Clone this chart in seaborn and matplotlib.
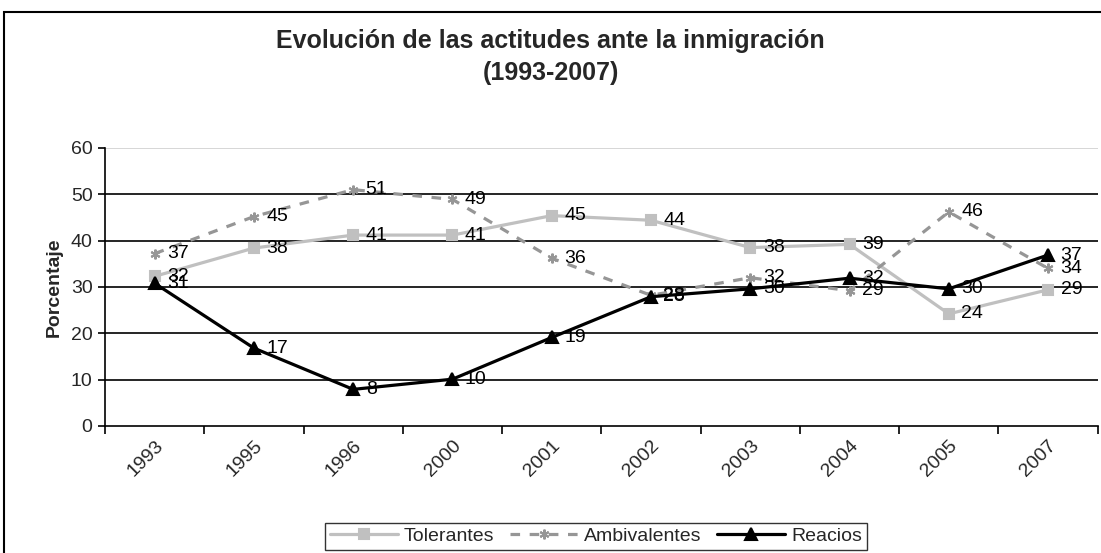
import matplotlib

matplotlib.use("Agg")
import matplotlib.pyplot as plt
import matplotlib.transforms as mtransforms
import numpy as np
import pandas as pd
import seaborn as sns
from matplotlib.patches import Rectangle

years = ["1993", "1995", "1996", "2000", "2001", "2002", "2003", "2004", "2005", "2007"]
tolerantes = [32.3, 38.4, 41.2, 41.2, 45.4, 44.4, 38.5, 39.2, 24.2, 29.4]
ambivalentes = [37.2, 45.2, 51.0, 48.9, 36.2, 28.2, 32.0, 29.2, 46.2, 34.0]
reacios = [30.8, 16.8, 7.9, 10.1, 19.1, 27.9, 29.6, 31.9, 29.6, 36.9]

series = {
    "Tolerantes": dict(values=tolerantes, color="#c0c0c0", marker="s", ls="-", ms=7),
    "Ambivalentes": dict(values=ambivalentes, color="#969696", marker=(6, 2, 0), ls=(0, (3, 3)), ms=7),
    "Reacios": dict(values=reacios, color="#000000", marker="^", ls="-", ms=8),
}

sns.set_theme(style="white")
plt.rcParams["font.family"] = ["Liberation Sans", "DejaVu Sans"]

fig = plt.figure(figsize=(11.01, 5.53), dpi=100)
ax = fig.add_axes([0.0954, 0.2297, 0.9016, 0.5027])

x = np.arange(len(years))
for name, s in series.items():
    df = pd.DataFrame({"x": x, "y": s["values"]})
    sns.lineplot(data=df, x="x", y="y", ax=ax, color=s["color"], linestyle=s["ls"],
                 marker=s["marker"], markersize=s["ms"], markeredgecolor=s["color"],
                 markeredgewidth=1.5, linewidth=2.3, label=name)
    for xi, v in zip(x, s["values"]):
        ax.annotate(f"{round(v)}", (xi, v), xytext=(9, 0), textcoords="offset points",
                    ha="left", va="center", fontsize=14, color="black")

ax.set_xlim(-0.5, len(years) - 0.5)
ax.set_ylim(0, 60)
ax.set_yticks(range(0, 61, 10))
ax.set_xticks(x)
ax.set_xticklabels(years, rotation=45, ha="right", rotation_mode="anchor", fontsize=14)
shift = mtransforms.ScaledTranslation(-10 / 100, -4 / 100, fig.dpi_scale_trans)
for lab in ax.get_xticklabels():
    lab.set_transform(lab.get_transform() + shift)
ax.tick_params(axis="x", length=0, pad=8)
ax.set_xticks(np.arange(-0.5, len(years), 1), minor=True)
ax.tick_params(axis="x", which="minor", length=6, width=1.2, color="black", direction="out", bottom=True)
ax.tick_params(axis="y", labelsize=14, length=5, width=1.2, color="black", direction="out", left=True, pad=4)
for yv in range(10, 51, 10):
    ax.axhline(yv, color="black", linewidth=1.2, zorder=0)
ax.axhline(60, color="#d0d0d0", linewidth=1.2, zorder=0)
ax.grid(False)
for side in ["top", "right"]:
    ax.spines[side].set_visible(False)
for side in ["left", "bottom"]:
    ax.spines[side].set_color("black")
    ax.spines[side].set_linewidth(1.2)
ax.set_xlabel("")
ax.set_ylabel("Porcentaje", fontsize=14, fontweight="bold", labelpad=6)

fig.text(0.5, 0.897, "Evolución de las actitudes ante la inmigración\n(1993-2007)",
         ha="center", va="center", fontsize=18, fontweight="bold", linespacing=1.4)

ax.get_legend().remove()
handles, labels = ax.get_legend_handles_labels()
leg = fig.legend(handles, labels, loc="lower center", bbox_to_anchor=(0.5413, 0.0), ncol=3,
                 fontsize=14, frameon=True, fancybox=False, edgecolor="black",
                 handlelength=3.5, columnspacing=0.8, handletextpad=0.3, borderpad=0.25,
                 borderaxespad=0.15)
leg.get_frame().set_linewidth(1.0)

fig.patches.append(Rectangle((0.004, -0.05), 1.05, 1.028, transform=fig.transFigure,
                             fill=False, edgecolor="black", linewidth=1.5))

fig.savefig("out.png", dpi=100)
